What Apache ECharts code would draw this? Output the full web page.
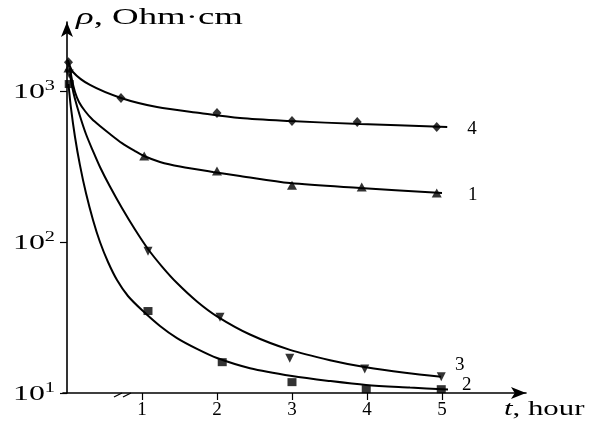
<!DOCTYPE html>
<html>
<head>
<meta charset="utf-8">
<script src="https://cdn.jsdelivr.net/npm/echarts@6/dist/echarts.min.js"></script>
<style>html,body{margin:0;padding:0;background:#fff}#c{width:590px;height:421px}</style>
</head>
<body>
<div id="c"></div>
<script>
// Fitted curves (t in hours, rho in Ohm·cm)
const fitT4 = [0.013, 0.08, 0.307, 0.72, 1.2, 1.773, 2.307, 2.97, 3.91, 5.07];
const fitV4 = [1603, 1336, 1096, 899, 783, 714, 662, 633, 604, 578];
const fitT1 = [0.04, 0.067, 0.107, 0.16, 0.24, 0.333, 0.44, 0.573, 0.733, 0.907, 1.027, 1.24, 1.507, 1.947, 2.307, 2.973, 3.907, 5.0];
const fitV1 = [1420, 1183, 985, 846, 737, 652, 586, 519, 452, 400, 371, 339, 316, 291, 274, 246, 228, 211];
const fitT3 = [0.04, 0.067, 0.107, 0.173, 0.253, 0.347, 0.44, 0.573, 0.733, 0.907, 1.08, 1.267, 1.467, 1.733, 2.0, 2.44, 2.973, 3.507, 3.987, 4.507, 4.987];
const fitV3 = [1296, 1079, 885, 683, 519, 400, 314, 233, 168, 121, 89.9, 68.8, 53.5, 40.4, 32.2, 24.4, 19.3, 16.5, 14.8, 13.6, 12.8];
const fitT2 = [0.02, 0.053, 0.107, 0.173, 0.253, 0.347, 0.44, 0.547, 0.667, 0.813, 1.013, 1.24, 1.467, 1.733, 2.0, 2.44, 3.0, 3.507, 3.987, 4.573, 5.08];
const fitV2 = [1113, 772, 496, 323, 211, 140, 100, 73.7, 56.0, 43.9, 34.9, 27.8, 23.1, 19.6, 17.05, 14.6, 12.96, 12.0, 11.3, 10.87, 10.55];

// Measured points
const ptT4 = [0.02, 0.72, 2.0, 3.0, 3.87, 4.93];
const ptV4 = [1550, 899, 715, 633, 624, 578];
const ptT1 = [0.02, 1.03, 2.0, 3.0, 3.93, 4.93];
const ptV1 = [1420, 371, 295, 238, 231, 211];
const ptT3 = [0.03, 1.08, 2.04, 2.97, 3.97, 4.99];
const ptV3 = [1296, 87, 31.8, 17.0, 14.4, 12.8];
const ptT2 = [0.03, 1.08, 2.07, 3.0, 3.99, 4.99];
const ptV2 = [1112, 34.9, 16.0, 11.8, 10.6, 10.6];

const curveNames = ['4', '1', '3', '2'];
const xTicks = [1, 2, 3, 4, 5];
const yTicks = [10, 100, 1000];
const yTitle = ['ρ', ', Ohm·cm'];
const xTitle = ['t', ', hour'];
const breakAt = [0.68, 0.8];

const zip = (a, b) => a.map((v, i) => [v, b[i]]);
const FONT = 'Liberation Serif';

const fits = [zip(fitT4, fitV4), zip(fitT1, fitV1), zip(fitT3, fitV3), zip(fitT2, fitV2)];
const pts = [zip(ptT4, ptV4), zip(ptT1, ptV1), zip(ptT3, ptV3), zip(ptT2, ptV2)];
const symbols = ['diamond', 'triangle', 'triangle', 'rect'];
const symRot = [0, 0, 180, 0];
const symSize = [[9, 10], [10, 9], [9, 9], [9, 8]];
const endOff = [[12, 2], [18, 2], [6, -12], [6, -4]];

const series = [];
fits.forEach((d, i) => {
  series.push({
    type: 'line', data: d, smooth: 0.3, showSymbol: false,
    lineStyle: { color: '#000', width: 2 }, silent: true,
    endLabel: { show: true, formatter: curveNames[i], color: '#000', fontFamily: FONT,
      fontSize: 19, offset: endOff[i] }
  });
});
pts.forEach((d, i) => {
  series.push({
    type: 'scatter', data: d, symbol: symbols[i], symbolRotate: symRot[i],
    symbolSize: symSize[i], itemStyle: { color: '#000' }, silent: true
  });
});

const chart = echarts.init(document.getElementById('c'));
chart.setOption({
  animation: false,
  grid: { left: 63, right: 64, top: 22, bottom: 28 },
  xAxis: {
    type: 'value', min: -0.053, max: 6.12,
    axisLine: { lineStyle: { color: '#000', width: 1.6 }, symbol: ['none', 'arrow'], symbolSize: [9, 15] },
    axisTick: { show: true, length: 7, lineStyle: { color: '#000', width: 1.2 }, customValues: xTicks },
    axisLabel: { color: '#000', fontFamily: FONT, fontSize: 19, margin: 8, customValues: xTicks },
    splitLine: { show: false }
  },
  yAxis: {
    type: 'log', logBase: 10, min: 10, max: 2864,
    axisLine: { show: true, lineStyle: { color: '#000', width: 1.6 }, symbol: ['none', 'arrow'], symbolSize: [9, 15] },
    axisTick: { show: true, length: 7, lineStyle: { color: '#000', width: 1.2 }, customValues: yTicks },
    axisLabel: { show: false },
    splitLine: { show: false }, minorTick: { show: false }
  },
  series: series
});

// text and break marks placed through the chart's own scales
const graphics = [];
yTicks.forEach((v, i) => {
  const p = chart.convertToPixel({ gridIndex: 0 }, [-0.053, v]);
  graphics.push({
    type: 'text', id: 'yl' + i, x: p[0] - 8, y: p[1] + 1, scaleX: 1.45,
    style: {
      text: '{b|10}{s|' + Math.round(Math.log10(v)) + '}',
      align: 'right', verticalAlign: 'middle',
      rich: {
        b: { fontFamily: FONT, fontSize: 22, fill: '#000' },
        s: { fontFamily: FONT, fontSize: 14, fill: '#000', padding: [0, 0, 12, 0] }
      }
    }
  });
});
const o = chart.convertToPixel({ gridIndex: 0 }, [-0.053, 10]);
graphics.push({
  type: 'text', id: 'yt', x: o[0] + 13, y: 6, scaleX: 1.6,
  style: { text: '{i|' + yTitle[0] + '}{n|' + yTitle[1] + '}', rich: {
    i: { fontFamily: FONT, fontStyle: 'italic', fontSize: 23, fill: '#000' },
    n: { fontFamily: FONT, fontSize: 23, fill: '#000' } } }
});
graphics.push({
  type: 'text', id: 'xt', x: 504, y: 398, scaleX: 1.4,
  style: { text: '{i|' + xTitle[0] + '}{n|' + xTitle[1] + '}', rich: {
    i: { fontFamily: FONT, fontStyle: 'italic', fontSize: 22, fill: '#000' },
    n: { fontFamily: FONT, fontSize: 22, fill: '#000' } } }
});
breakAt.forEach((t, i) => {
  const p = chart.convertToPixel({ gridIndex: 0 }, [t, 10]);
  graphics.push({
    type: 'line', id: 'br' + i, z: 101,
    shape: { x1: p[0] - 4, y1: p[1] + 4, x2: p[0] + 4, y2: p[1] },
    style: { stroke: '#000', lineWidth: 1.3 }
  });
});
chart.setOption({ graphic: graphics });
</script>
</body>
</html>
